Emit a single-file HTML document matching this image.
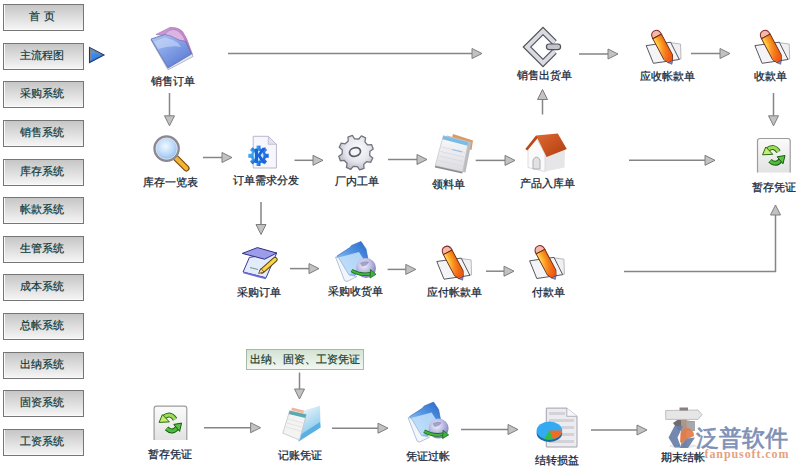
<!DOCTYPE html>
<html><head><meta charset="utf-8">
<style>
html,body{margin:0;padding:0;background:#fff;width:799px;height:470px;overflow:hidden;position:relative}
body{font-family:"Liberation Sans",sans-serif;font-size:11px;color:#1c3040}
.btn{position:absolute;left:3px;width:76px;padding-right:3px;height:25px;border:1px solid #767676;
 background:linear-gradient(#c6c6c6,#ececec 80%,#f6f6f6);box-shadow:inset 1px -1px 0 #fafafa;
 text-align:center;line-height:22px;font-size:11px;color:#123a3a;white-space:pre;-webkit-text-stroke:0.2px #123a3a}
.lbl{position:absolute;text-align:center;white-space:nowrap;font-size:11px;line-height:14px;color:#142636;-webkit-text-stroke:0.25px #142636}
.box{position:absolute;left:246px;top:349px;width:116px;height:19px;border:1px solid #a9b9a9;
 background:linear-gradient(#d3e3d3,#f2f7f2);color:#1b3a2a;font-size:11px;line-height:19px;text-align:center;white-space:nowrap;-webkit-text-stroke:0.2px #1b3a2a}
svg{position:absolute;left:0;top:0}
.ar line,.ar polyline{stroke:#858585;stroke-width:1.5}
.ar .hd{fill:#c2c2c2;stroke:#7e7e7e;stroke-width:1}
</style></head><body>
<div class="btn" style="top:4px">首 页</div><div class="btn" style="top:43px">主流程图</div><div class="btn" style="top:81px">采购系统</div><div class="btn" style="top:120px">销售系统</div><div class="btn" style="top:159px">库存系统</div><div class="btn" style="top:197px">帐款系统</div><div class="btn" style="top:236px">生管系统</div><div class="btn" style="top:274px">成本系统</div><div class="btn" style="top:313px">总帐系统</div><div class="btn" style="top:352px">出纳系统</div><div class="btn" style="top:390px">固资系统</div><div class="btn" style="top:429px">工资系统</div>
<svg class="ar" width="799" height="470">
<defs><linearGradient id="gTri" x1="0" y1="0" x2="0.4" y2="1"><stop offset="0" stop-color="#7ab8fa"/><stop offset="0.5" stop-color="#3c8cf0"/><stop offset="1" stop-color="#2a78e0"/></linearGradient></defs><polygon points="89.5,47.5 104,55 89.5,62.5" fill="url(#gTri)" stroke="#1e3a78" stroke-width="1.1"/><polyline points="90.8,60.2 90.8,49.6 100.5,54.7" fill="none" stroke="#d8ecff" stroke-width="0.9"/>
<line x1="228" y1="53.5" x2="472" y2="53.5"/><polygon points="472,48.5 482,53.5 472,58.5" class="hd"/><line x1="579" y1="54" x2="608" y2="54"/><polygon points="608,49 618,54 608,59" class="hd"/><line x1="691" y1="53.5" x2="720" y2="53.5"/><polygon points="720,48.5 730,53.5 720,58.5" class="hd"/><line x1="773.5" y1="93" x2="773.5" y2="115.8"/><polygon points="768.5,115.8 778.5,115.8 773.5,125.8" class="hd"/><line x1="169.5" y1="93" x2="169.5" y2="115.8"/><polygon points="164.5,115.8 174.5,115.8 169.5,125.8" class="hd"/><line x1="203" y1="157.5" x2="222" y2="157.5"/><polygon points="222,152.5 232,157.5 222,162.5" class="hd"/><line x1="294.5" y1="160.3" x2="313" y2="160.3"/><polygon points="313,155.3 323,160.3 313,165.3" class="hd"/><line x1="388" y1="159.5" x2="417" y2="159.5"/><polygon points="417,154.5 427,159.5 417,164.5" class="hd"/><line x1="475.7" y1="160.4" x2="505" y2="160.4"/><polygon points="505,155.4 515,160.4 505,165.4" class="hd"/><line x1="542.5" y1="114.5" x2="542.5" y2="99.5"/><polygon points="537.5,99.5 547.5,99.5 542.5,89.5" class="hd"/><line x1="629" y1="160.3" x2="705" y2="160.3"/><polygon points="705,155.3 715,160.3 705,165.3" class="hd"/><line x1="261" y1="202" x2="261" y2="224.5"/><polygon points="256,224.5 266,224.5 261,234.5" class="hd"/><line x1="290" y1="268.6" x2="309" y2="268.6"/><polygon points="309,263.6 319,268.6 309,273.6" class="hd"/><line x1="387.6" y1="269.4" x2="405.8" y2="269.4"/><polygon points="405.8,264.4 415.8,269.4 405.8,274.4" class="hd"/><line x1="486" y1="271.2" x2="504" y2="271.2"/><polygon points="504,266.2 514,271.2 504,276.2" class="hd"/><polyline points="624,271.5 775.5,271.5 775.5,215" fill="none"/><polygon points="770.5,215 780.5,215 775.5,205" class="hd"/><line x1="299.5" y1="372.5" x2="299.5" y2="389"/><polygon points="294.5,389 304.5,389 299.5,399" class="hd"/><line x1="204" y1="427.7" x2="250.6" y2="427.7"/><polygon points="250.6,422.7 260.6,427.7 250.6,432.7" class="hd"/><line x1="332" y1="428.2" x2="378" y2="428.2"/><polygon points="378,423.2 388,428.2 378,433.2" class="hd"/><line x1="461" y1="429.5" x2="508" y2="429.5"/><polygon points="508,424.5 518,429.5 508,434.5" class="hd"/><line x1="591" y1="430" x2="637" y2="430"/><polygon points="637,425 647,430 637,435" class="hd"/>
</svg>
<div class="box">出纳、固资、工资凭证</div>
<div class="lbl" style="left:103.3px;top:74.0px;width:140px">销售订单</div><div class="lbl" style="left:474.0px;top:68.0px;width:140px">销售出货单</div><div class="lbl" style="left:597.0px;top:69.0px;width:140px">应收帐款单</div><div class="lbl" style="left:700.0px;top:68.8px;width:140px">收款单</div><div class="lbl" style="left:100.5px;top:174.7px;width:140px">库存一览表</div><div class="lbl" style="left:195.9px;top:173.3px;width:140px">订单需求分发</div><div class="lbl" style="left:286.8px;top:174.2px;width:140px">厂内工单</div><div class="lbl" style="left:378.4px;top:176.9px;width:140px">领料单</div><div class="lbl" style="left:477.8px;top:176.3px;width:140px">产品入库单</div><div class="lbl" style="left:704.0px;top:180.0px;width:140px">暂存凭证</div><div class="lbl" style="left:189.4px;top:284.5px;width:140px">采购订单</div><div class="lbl" style="left:285.5px;top:284.0px;width:140px">采购收货单</div><div class="lbl" style="left:384.5px;top:285.4px;width:140px">应付帐款单</div><div class="lbl" style="left:478.0px;top:285.4px;width:140px">付款单</div><div class="lbl" style="left:99.6px;top:447.3px;width:140px">暂存凭证</div><div class="lbl" style="left:230.2px;top:448.0px;width:140px">记账凭证</div><div class="lbl" style="left:357.6px;top:449.0px;width:140px">凭证过帐</div><div class="lbl" style="left:487.0px;top:452.6px;width:140px">结转损益</div><div class="lbl" style="left:612.8px;top:450.2px;width:140px">期末结帐</div>
<svg width="799" height="470">
<defs>
<linearGradient id="gBlue" x1="0" y1="0" x2="0.8" y2="1"><stop offset="0" stop-color="#b4c8f4"/><stop offset="0.45" stop-color="#86a4e8"/><stop offset="1" stop-color="#5a78d0"/></linearGradient>
<linearGradient id="gPurp" x1="0" y1="0" x2="1" y2="0.5"><stop offset="0" stop-color="#c8a0dc"/><stop offset="1" stop-color="#c878c0"/></linearGradient>
<linearGradient id="gOr" x1="0" y1="0" x2="1" y2="0"><stop offset="0" stop-color="#ffe070"/><stop offset="0.35" stop-color="#ffb028"/><stop offset="1" stop-color="#ec6a10"/></linearGradient>
<radialGradient id="gLens" cx="0.45" cy="0.4" r="0.6"><stop offset="0" stop-color="#f2f8ff"/><stop offset="0.6" stop-color="#b8d8f8"/><stop offset="1" stop-color="#88b8ec"/></radialGradient>
<radialGradient id="gGear" cx="0.55" cy="0.4" r="0.65"><stop offset="0" stop-color="#fafafe"/><stop offset="0.55" stop-color="#e6e6ee"/><stop offset="1" stop-color="#b4b4c2"/></radialGradient>
<linearGradient id="gBox" x1="0" y1="0" x2="0" y2="1"><stop offset="0" stop-color="#fbfbfb"/><stop offset="1" stop-color="#e2e2e2"/></linearGradient>
<linearGradient id="gGreen" x1="0" y1="0" x2="1" y2="1"><stop offset="0" stop-color="#c8f070"/><stop offset="1" stop-color="#40b030"/></linearGradient>
<linearGradient id="gFold" x1="0.9" y1="0" x2="0.2" y2="0.9"><stop offset="0" stop-color="#2a6ccc"/><stop offset="0.5" stop-color="#5a9ae6"/><stop offset="1" stop-color="#b0d4f6"/></linearGradient>
<linearGradient id="gFront" x1="0" y1="0" x2="0" y2="1"><stop offset="0" stop-color="#a8d0f6"/><stop offset="1" stop-color="#eef6ff"/></linearGradient>
<radialGradient id="gGlobe" cx="0.4" cy="0.35" r="0.7"><stop offset="0" stop-color="#f4f4fc"/><stop offset="0.6" stop-color="#b0b0dc"/><stop offset="1" stop-color="#7878b8"/></radialGradient>
<linearGradient id="gRoof" x1="0" y1="0" x2="1" y2="1"><stop offset="0" stop-color="#e06a30"/><stop offset="1" stop-color="#b03c10"/></linearGradient>
<linearGradient id="gFile" x1="0.3" y1="0" x2="0.7" y2="1"><stop offset="0" stop-color="#e8f4fa"/><stop offset="0.6" stop-color="#a0d4f0"/><stop offset="1" stop-color="#70bce8"/></linearGradient>
<linearGradient id="gDoc" x1="0" y1="0" x2="0" y2="1"><stop offset="0" stop-color="#fafafc"/><stop offset="1" stop-color="#dcdce0"/></linearGradient>
<linearGradient id="gK" x1="0" y1="0" x2="1" y2="0.3"><stop offset="0" stop-color="#48b4f4"/><stop offset="1" stop-color="#2068dc"/></linearGradient>
<linearGradient id="gOrV" x1="0" y1="0" x2="0" y2="1"><stop offset="0" stop-color="#f05010" stop-opacity="0"/><stop offset="1" stop-color="#f04a10" stop-opacity="0.9"/></linearGradient>
</defs>

<!-- 销售订单 -->
<g transform="translate(145,22)">
 <polygon points="6,18 23,47.8 48.2,34.5 46,31" fill="#e8e8f0" stroke="#9090b0" stroke-width="0.6"/>
 <path d="M11,12.5 L25,5.5 Q33,5 37.5,9.5 L41.5,16.5 L47.5,32.5 L30,15 Z" fill="url(#gPurp)" stroke="#9a78b0" stroke-width="0.7"/>
 <path d="M6,17 L20,12.5 Q26,13 30,16 Q35,19 40.5,19 L46.5,32 L23,46 Z" fill="url(#gBlue)" stroke="#5a6cb0" stroke-width="0.8"/>
 <path d="M20,12.5 Q23,7.5 29,7.5 Q36,8.5 40.5,19 Q35,19 30,16 Q26,13 20,12.5 Z" fill="#dcb4e4" stroke="#a07cb8" stroke-width="0.6"/>
 <path d="M9,19.5 L20,15.5 Q27,17 33,21 L36,25 Q26,23 13,27 Z" fill="#d0def8" opacity="0.55"/>
</g>

<!-- 销售出货单 -->
<g transform="translate(518,24)">
 <polyline points="36.5,18.5 25,7 9,23 25,39 36.5,27.5" fill="none" stroke="#56565e" stroke-width="6.5" stroke-linejoin="miter"/>
 <polyline points="36.5,18.5 25,7 9,23 25,39 36.5,27.5" fill="none" stroke="#dadae2" stroke-width="4" stroke-linejoin="miter"/>
 <rect x="28.4" y="20" width="14.2" height="5.6" rx="2.8" fill="#c4c4cc" stroke="#505058" stroke-width="1.2"/>
</g>

<!-- pencils -->
<g id="pen" transform="translate(640,25)">
 <polygon points="29,17.5 40.5,19 41,34 30,34" fill="#f0f0f2" stroke="#a8a8b0" stroke-width="0.8"/>
 <polygon points="6.2,20.6 30.6,17.2 39.3,34.5 13.4,38.3" fill="#f4f4f6" stroke="#44444e" stroke-width="0.9"/>
 <g transform="translate(23,22.5) rotate(-28)">
  <path d="M-4.9,-12.5 Q-4.9,-18.8 0,-18.8 Q4.9,-18.8 4.9,-12.5 Z" fill="#f2b8a8" stroke="#842828" stroke-width="1"/>
  <path d="M-4.9,-12.5 L4.9,-12.5 L4.9,11 L2.4,16 L-2.4,16 L-4.9,11 Z" fill="url(#gOr)" stroke="#6a2a10" stroke-width="0.9"/>
  <path d="M-4.4,-4 L4.4,-4 L4.4,11 L2.2,15.6 L-2.2,15.6 L-4.4,11 Z" fill="url(#gOrV)"/>
  <polygon points="-2.4,16 2.4,16 0,19" fill="#8c8cc8" stroke="#50507a" stroke-width="0.6"/>
 </g>
</g>
<use href="#pen" transform="translate(108.7,0)"/>
<use href="#pen" transform="translate(-209.4,215.9)"/>
<use href="#pen" transform="translate(-116.6,215.2)"/>

<!-- magnifier -->
<g transform="translate(148,130)">
 <line x1="28" y1="28" x2="38.3" y2="38.3" stroke="#7a4a10" stroke-width="6.5" stroke-linecap="round"/>
 <line x1="28" y1="28" x2="38.3" y2="38.3" stroke="#f2b434" stroke-width="4.2" stroke-linecap="round"/>
 <circle cx="18.6" cy="18.6" r="12" fill="url(#gLens)" stroke="#8a8a94" stroke-width="2.6"/>
 <circle cx="18.6" cy="18.6" r="10.6" fill="none" stroke="#e4e4e8" stroke-width="0.9"/>
</g>

<!-- KDE doc -->
<g transform="translate(242,130)">
 <path d="M11.2,6.3 L26.3,6.3 L34.4,14.3 L34.4,38 L11.2,38 Z" fill="#f6f6fc" stroke="#b8b8cc" stroke-width="1"/>
 <path d="M26.3,6.3 L26.3,14.3 L34.4,14.3 Z" fill="#e2e2f0" stroke="#b8b8cc" stroke-width="0.8"/>
 <g transform="translate(16.5,25.8)">
  <g fill="url(#gK)">
   <circle r="7.6"/>
   <rect x="-2" y="-10.2" width="4" height="20.4"/>
   <rect x="-10.2" y="-2" width="20.4" height="4"/>
   <rect x="-2" y="-10.2" width="4" height="20.4" transform="rotate(45)"/>
   <rect x="-2" y="-10.2" width="4" height="20.4" transform="rotate(-45)"/>
  </g>
  <circle r="5" fill="#bfe6ff"/>
  <path d="M-3.5,-7 L-0.5,-7 L-0.5,-1.5 L4,-8 L7.5,-8 L2,-0.5 L7.5,7.5 L4,7.5 L-0.5,1 L-0.5,7 L-3.5,7 Z" fill="#1a64d8"/>
 </g>
</g>

<!-- gear -->
<g transform="translate(332,130)">
 <path d="M26.78,8.98 L29.37,5.94 L33.60,7.95 L32.88,11.88 L35.67,14.96 L39.65,14.64 L41.22,19.06 L37.93,21.32 L37.72,25.48 L40.76,28.07 L38.75,32.30 L34.82,31.58 L31.74,34.37 L32.06,38.35 L27.64,39.92 L25.38,36.63 L21.22,36.42 L18.63,39.46 L14.40,37.45 L15.12,33.52 L12.33,30.44 L8.35,30.76 L6.78,26.34 L10.07,24.08 L10.28,19.92 L7.24,17.33 L9.25,13.10 L13.18,13.82 L16.26,11.03 L15.94,7.05 L20.36,5.48 L22.62,8.77 Z" fill="url(#gGear)" stroke="#74747e" stroke-width="1.3" stroke-linejoin="round"/>
 <ellipse cx="23" cy="22" rx="5.6" ry="4.2" transform="rotate(-18 23 22)" fill="#f4f4fa" stroke="#5c5c64" stroke-width="1.8"/>
</g>

<!-- docs stack -->
<g transform="translate(428,128)">
 <polygon points="25,6 45,12.5 43.5,22 23,14" fill="#d49050" opacity="0.9"/>
 <polygon points="19,7.5 43.5,14 37.5,44.5 11,38.5" fill="#bcbcc0"/>
 <polygon points="15.3,7.7 40.3,14.3 34.7,43.9 7.2,37.8" fill="url(#gDoc)" stroke="#c0c0c8" stroke-width="0.7"/>
 <polygon points="7.2,37.8 34.7,43.9 34.2,45.5 7,39.5" fill="#8c8c90"/>
 <polygon points="15.3,7.7 40.3,14.3 39.5,17.8 14.5,11.3" fill="#78bce8"/>
 <g stroke="#d4d8e4" stroke-width="0.8">
  <line x1="13.5" y1="19" x2="37" y2="24.5"/><line x1="12.5" y1="23.5" x2="36" y2="29"/>
  <line x1="11.5" y1="28" x2="35" y2="33.5"/><line x1="10.5" y1="32.5" x2="34" y2="38"/>
 </g>
 <line x1="24" y1="21.5" x2="34" y2="23.8" stroke="#90c0f0" stroke-width="1.2"/>
</g>

<!-- house -->
<g transform="translate(520,126)">
 <polygon points="25,28 45,22 44.5,41.5 25,45.5" fill="#e6e6e8"/>
 <polygon points="8,23 16,11.5 25,28 25,45.5 8,41.5" fill="#fafafa" stroke="#d4d4d8" stroke-width="0.8"/>
 <polygon points="16,9.6 37.8,7.4 46.8,22.9 26.6,30.9" fill="url(#gRoof)"/>
 <polygon points="5.3,22.9 16,9.6 18,11.8 7.3,24.5" fill="#b84a1a"/>
 <path d="M13,43 L13,34 Q16.5,28 20,34 L20,43 Z" fill="#e2e2e4" stroke="#a8a8ac" stroke-width="0.9"/>
</g>

<!-- refresh boxes -->
<g id="ref" transform="translate(750,132)">
 <path d="M7.5,40.5 L7.5,9 Q7.5,6.5 10,6.5 L37.7,6.5 Q40.2,6.5 40.2,9 L40.2,40.5" fill="url(#gBox)" stroke="#9c9c9c" stroke-width="1.2"/>
 <path d="M28.5,19.8 Q24,12.5 17.5,17.5" fill="none" stroke="#2a6a18" stroke-width="5"/>
 <path d="M28.5,19.8 Q24,12.5 17.5,17.5" fill="none" stroke="#9cdc58" stroke-width="3"/>
 <polygon points="12.5,22.8 15.8,15 22.8,22.3" fill="#c8ec70" stroke="#2a6a18" stroke-width="1" stroke-linejoin="round"/>
 <path d="M20,28.8 Q26,34.5 31,27.5" fill="none" stroke="#1c5a10" stroke-width="5"/>
 <path d="M20,28.8 Q26,34.5 31,27.5" fill="none" stroke="#4cbc3c" stroke-width="3"/>
 <polygon points="35,23.5 27.2,24.8 33,31.8" fill="#58c444" stroke="#1c5a10" stroke-width="1" stroke-linejoin="round"/>
</g>
<use href="#ref" transform="translate(-603.4,267.6)"/>

<!-- notepad -->
<g transform="translate(236,240)">
 <polygon points="13.4,17.4 40.7,13 30,37.8 7.1,32" fill="#e2ecfc" stroke="#3a3a98" stroke-width="1"/>
 <line x1="7.5" y1="32.5" x2="30" y2="38.3" stroke="#6a6ad0" stroke-width="1.8"/>
 <polygon points="6.3,13.4 21.4,7.6 40.7,13 28.6,19.2" fill="#9c9ce8" stroke="#303088" stroke-width="1"/>
 <line x1="14" y1="27.5" x2="22" y2="29.5" stroke="#6a8a6a" stroke-width="0.9"/>
 <line x1="26" y1="31" x2="39" y2="19.5" stroke="#5a3a08" stroke-width="5.2" stroke-linecap="round"/>
 <line x1="26" y1="31" x2="39" y2="19.5" stroke="#f8d44a" stroke-width="3.4" stroke-linecap="round"/>
 <polygon points="22.5,33.5 25,28.5 28,32" fill="#f0d8b0" stroke="#5a3a08" stroke-width="0.7"/>
</g>

<!-- folder + globe -->
<g id="fg" transform="translate(330,236)">
 <path d="M7,20 L20,11.5 L21.5,9.5 L31,5.5 L36,13 L38.5,26 L22,42 L16,44.5 Z" fill="url(#gFold)" stroke="#3a70c0" stroke-width="0.7"/>
 <polygon points="8.5,21.5 29,16 36,27 19,39" fill="#c4e2fa" opacity="0.85"/>
 <polygon points="5.5,21 8.5,21.5 19,39 27,40.5 17,45.5 14.5,44.5" fill="#f0f6fc" stroke="#a0b4d0" stroke-width="0.8"/>
 <circle cx="36" cy="32" r="10" fill="url(#gGlobe)"/>
 <path d="M30,27 Q34,24 39,26 Q37,30 32,30.5 Z" fill="#8484bc" opacity="0.7"/>
 <path d="M21.6,34.5 Q31,40 42,37.5" fill="none" stroke="#1a6a1a" stroke-width="3.6"/>
 <path d="M21.6,34.5 Q31,40 42,37.5" fill="none" stroke="#40b840" stroke-width="2"/>
 <polygon points="40.5,33.5 46,38.3 40,42" fill="#40b040" stroke="#1a6a1a" stroke-width="0.8"/>
</g>
<use href="#fg" transform="translate(72.6,160.6)"/>

<!-- file box -->
<g transform="translate(276,398)">
 <polygon points="27.4,12.7 44,7.8 44.5,29.4 22.5,43.5" fill="url(#gFile)"/>
 <polygon points="22.5,43.5 44.5,29.4 44,24 24,37" fill="#5ab0e2"/>
 <polygon points="6.8,35.2 13.7,12.7 30.3,16.6 23.5,42" fill="#f3f3f3" stroke="#c4c4c4" stroke-width="0.8"/>
 <polygon points="13.7,12.7 30.3,16.6 29.3,20 12.7,16" fill="#58aab0"/>
 <polygon points="16,9.5 28,12.5 27.2,15.2 15.2,12.2" fill="#f0b4a0"/>
 <g stroke="#dcdce0" stroke-width="0.7"><line x1="12" y1="21" x2="27" y2="25"/><line x1="11" y1="25" x2="26" y2="29"/><line x1="10" y1="29" x2="25" y2="33"/></g>
</g>

<!-- pie doc -->
<g transform="translate(530,402)">
 <path d="M16.3,6.1 L36.8,6.1 L47,14.3 L47,45 L16.3,45 Z" fill="#ececf0" stroke="#a2a2aa" stroke-width="1"/>
 <path d="M36.8,6.1 L36.8,14.3 L47,14.3" fill="#f8f8fc" stroke="#a2a2aa" stroke-width="0.8"/>
 <g fill="#d2d2d8"><rect x="19" y="10" width="16" height="3"/><rect x="19" y="17" width="25" height="3"/><rect x="19" y="24" width="25" height="3"/><rect x="19" y="31" width="25" height="3"/><rect x="19" y="38" width="25" height="3"/></g>
 <ellipse cx="19.4" cy="31" rx="12.8" ry="9" fill="#1a6aa8"/>
 <ellipse cx="19.4" cy="28.6" rx="12.8" ry="9" fill="#34aaf2"/>
 <path d="M19.4,28.6 L32.2,28.6 A12.8,9 0 0 1 23,37.2 Z" fill="#f06a28"/>
 <path d="M19.4,28.6 L23,37.2 A12.8,9 0 0 1 14,37 Z" fill="#30c048"/>
</g>

<!-- signpost -->
<g transform="translate(656,402)">
 <ellipse cx="27" cy="44" rx="14" ry="2" fill="#e8e8e8"/>
 <polygon points="17,21 22,17.5 39,19.5 39,29 22,28" fill="#6e6e70"/>
 <polygon points="30,19 39,19.5 39,29 30,28.5" fill="#a8a8aa"/>
 <rect x="25" y="7" width="5.6" height="38" fill="#b09484"/>
 <path d="M9.7,8.5 L42,8 L46,12.7 L42,17.4 L9.7,17.4 Z" fill="#e6e6e6" stroke="#b4b4b4" stroke-width="0.8"/>
 <rect x="23.5" y="5.5" width="8.5" height="3" fill="#8a8080"/>
</g>

<!-- watermark logo -->
<g transform="translate(664,418)" opacity="0.92">
 <polygon points="4.5,19.5 10.5,8 19,8 13.5,19.5 17,29.5 10.5,29.5" fill="#6a80aa"/>
 <path d="M16.5,14.5 L22.5,9.5 Q30.5,11.5 30,18 L16,24.5 Z" fill="#e27c4a"/>
 <polygon points="15.5,30 23,20.5 31,19.5 24,30" fill="#6a80aa"/>
</g>
<text x="695.5" y="446" font-family="Liberation Sans, sans-serif" font-size="23" fill="#7f90b6" stroke="#7f90b6" stroke-width="0.7">泛普软件</text>
<text x="704.5" y="457.5" font-family="Liberation Serif, serif" font-size="12" font-weight="bold" fill="#e4a282" textLength="84" lengthAdjust="spacing">fanpusoft.com</text>

</svg>
</body></html>
